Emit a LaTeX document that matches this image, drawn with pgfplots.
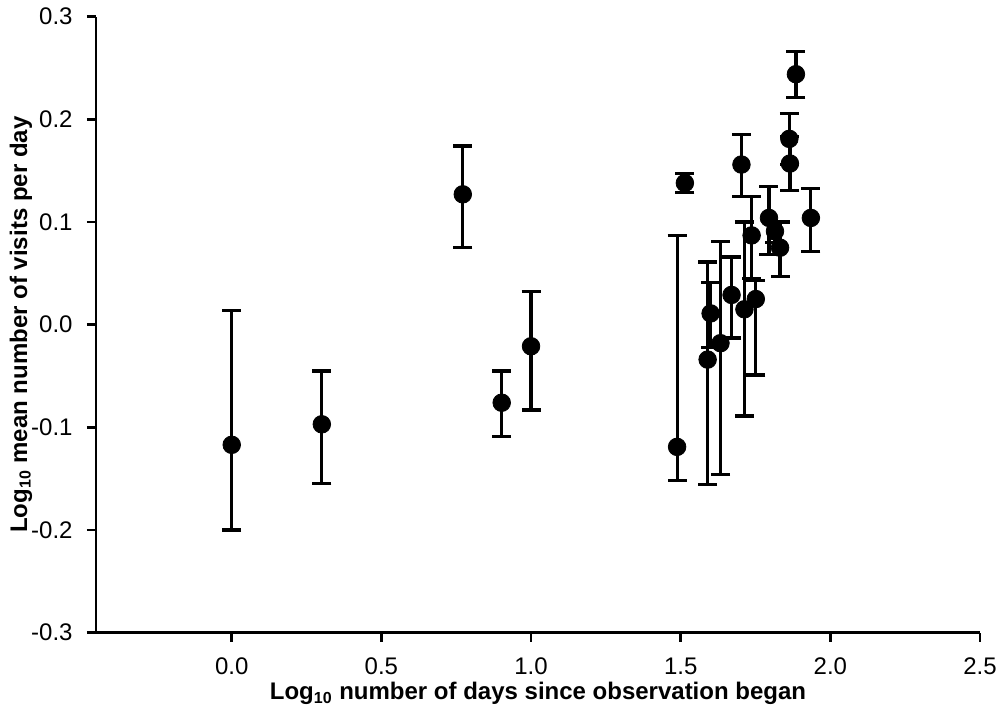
\documentclass[border=0pt]{standalone}
\usepackage{fontspec}
\setmainfont{Liberation Sans}
\usepackage{pgfplots}
\pgfplotsset{compat=1.18}
\usepackage{pgfplotstable}

% x, y, error plus, error minus
\pgfplotstableread{
x      y       ep     em
0.000  -0.117  0.131  0.083
0.301  -0.097  0.052  0.058
0.772   0.127  0.047  0.052
0.902  -0.076  0.031  0.033
1.000  -0.021  0.053  0.062
1.488  -0.119  0.206  0.033
1.514   0.138  0.009  0.009
1.590  -0.034  0.095  0.122
1.600   0.011  0.030  0.033
1.633  -0.018  0.099  0.128
1.670   0.029  0.037  0.042
1.703   0.156  0.029  0.031
1.713   0.015  0.085  0.104
1.737   0.087  0.038  0.042
1.751   0.025  0.018  0.074
1.795   0.104  0.031  0.036
1.815   0.091  0.009  0.011
1.832   0.075  0.025  0.028
1.863   0.181  0.025  0.025
1.865   0.157  0.026  0.026
1.885   0.244  0.022  0.023
1.935   0.104  0.029  0.033
}\data

\begin{document}
\begin{tikzpicture}
\begin{axis}[
  scale only axis, width=442pt, height=308pt,
  xmin=-0.4535, xmax=2.5, ymin=-0.3, ymax=0.3,
  axis lines=left,
  axis line style={line width=1.3pt, -},
  xtick={0,0.5,1,1.5,2,2.5},
  ytick={-0.3,-0.2,-0.1,0,0.1,0.2,0.3},
  tick align=outside, major tick length=4.5pt,
  tick style={line width=1.3pt, black},
  tick label style={font=\fontsize{12}{14}\selectfont, inner sep=1pt},
  xticklabel style={yshift=-7pt},
  yticklabel style={xshift=-6pt},
  label style={font=\fontsize{12}{14}\selectfont\bfseries, inner sep=1pt},
  /pgf/number format/assume math mode=true,
  /pgf/number format/fixed, /pgf/number format/fixed zerofill,
  /pgf/number format/precision=1,
  xlabel={Log\textsubscript{10} number of days since observation began},
  ylabel={Log\textsubscript{10} mean number of visits per day},
  xlabel style={at={(axis description cs:0.5,-0.099)}, anchor=center},
  ylabel style={at={(axis description cs:-0.085,0.5)}, anchor=center},
  clip=false,
]
\addplot[only marks, mark=*, mark size=4.4pt, black,
  error bars/.cd, y dir=both, y explicit,
  error bar style={line width=1.6pt, black},
  error mark options={line width=1.6pt, mark size=4.75pt, rotate=90, black}]
  table[x=x, y=y, y error plus=ep, y error minus=em] {\data};
\end{axis}
\pgfresetboundingbox
\path[use as bounding box] (-48pt,-39.65pt) rectangle (453.5pt,316.35pt);
\end{tikzpicture}
\end{document}
